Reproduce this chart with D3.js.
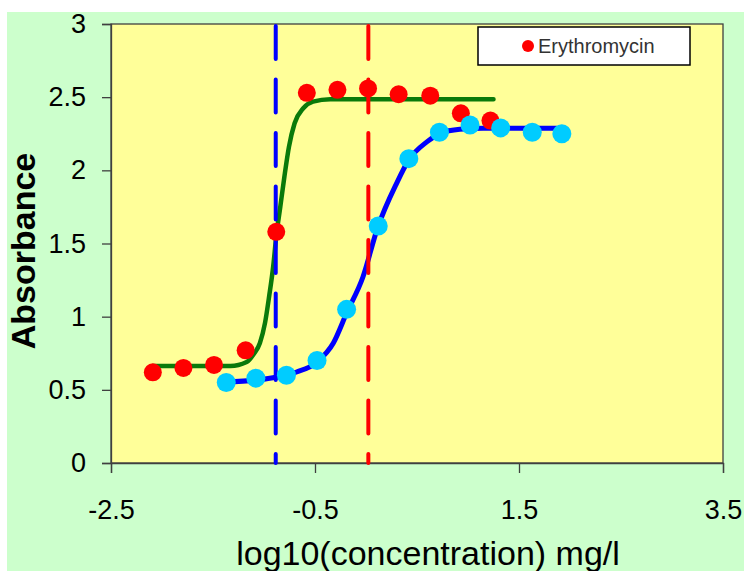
<!DOCTYPE html>
<meta charset="utf-8">
<style>
body { margin: 0; background: #fff; }
text { font-family: "Liberation Sans", Arial, sans-serif; }
</style>
<body>
<script src="https://d3js.org/d3.v7.min.js"></script>
<script>
// Erythromycin points (red) and second series (cyan)
var ertX = [-2.09, -1.79, -1.49, -1.18, -0.88, -0.58, -0.28, 0.02, 0.32, 0.63, 0.93, 1.22],
    ertY = [0.62, 0.65, 0.67, 0.77, 1.58, 2.53, 2.55, 2.56, 2.52, 2.51, 2.39, 2.34];
var cyX = [-1.37, -1.08, -0.78, -0.48, -0.19, 0.12, 0.42, 0.72, 1.02, 1.32, 1.63, 1.92],
    cyY = [0.55, 0.58, 0.60, 0.70, 1.05, 1.62, 2.08, 2.26, 2.31, 2.29, 2.26, 2.25];

// fitted curves
var greenX = [-2.09, -1.33, -1.17, -1.10, -1.04, -0.99, -0.95, -0.91, -0.88, -0.84, -0.80, -0.755, -0.70, -0.615, -0.52, -0.35, 1.25],
    greenY = [0.663, 0.663, 0.69, 0.745, 0.82, 0.957, 1.137, 1.342, 1.547, 1.752, 1.957, 2.162, 2.322, 2.424, 2.469, 2.486, 2.486];
var blueX = [-1.38, -1.07, -0.87, -0.68, -0.48, -0.32, -0.19, -0.03, 0.11, 0.30, 0.42, 0.60, 0.73, 0.92, 1.15, 1.87],
    blueY = [0.554, 0.567, 0.588, 0.622, 0.69, 0.82, 1.025, 1.271, 1.60, 1.911, 2.071, 2.196, 2.253, 2.28, 2.287, 2.287];

// vertical dashed markers
var markX = [-0.885, 0.023],
    markColor = ["#0000ff", "#ff0000"];

var xTicks = [-2.5, -0.5, 1.5, 3.5],
    yTicks = [0, 0.5, 1, 1.5, 2, 2.5, 3];

var width = 744, height = 571;

var svg = d3.select("body").append("svg")
    .attr("width", width)
    .attr("height", height);

svg.append("rect")
    .attr("x", 7).attr("y", 12)
    .attr("width", width - 7).attr("height", height - 12)
    .attr("fill", "#ccffcc");

var x = d3.scaleLinear().domain([-2.5, 3.5]).range([111, 723]),
    y = d3.scaleLinear().domain([0, 3]).range([463, 24]);

svg.append("rect")
    .attr("x", x(-2.5)).attr("y", y(3))
    .attr("width", x(3.5) - x(-2.5)).attr("height", y(0) - y(3))
    .attr("fill", "#ffff99")
    .attr("stroke", "#404040")
    .attr("stroke-width", 1.3);

// axes
var fmt = function(d) { return String(d); };
var yAxis = svg.append("g")
    .attr("transform", "translate(" + x(-2.5) + ",0)")
    .call(d3.axisLeft(y).tickValues(yTicks).tickSize(9).tickPadding(16)
      .tickFormat(fmt));
var xAxis = svg.append("g")
    .attr("transform", "translate(0," + y(0) + ")")
    .call(d3.axisBottom(x).tickValues(xTicks).tickSize(10)
      .tickFormat(fmt));

[yAxis, xAxis].forEach(function(g) {
  g.select(".domain").attr("stroke", "#404040").attr("stroke-width", 1.3);
  g.selectAll(".tick line").attr("stroke", "#404040").attr("stroke-width", 1.3);
  g.selectAll(".tick text")
    .attr("fill", "#000")
    .style("font-family", "'Liberation Sans', Arial, sans-serif")
    .style("font-size", "27px");
});
xAxis.selectAll(".tick text").attr("y", 56).attr("dy", 0);

svg.append("text")
    .attr("transform", "translate(35," + 251 + ") rotate(-90)")
    .attr("text-anchor", "middle")
    .style("font-size", "34px")
    .style("font-weight", "bold")
    .text("Absorbance");

svg.append("text")
    .attr("x", 428).attr("y", 565)
    .attr("text-anchor", "middle")
    .style("font-size", "34px")
    .text("log10(concentration) mg/l");

// curves
var line = d3.line()
    .x(function(d) { return x(d[0]); })
    .y(function(d) { return y(d[1]); })
    .curve(d3.curveMonotoneX);

svg.append("path")
    .datum(d3.zip(greenX, greenY))
    .attr("d", line)
    .attr("fill", "none")
    .attr("stroke", "#0a7a0a")
    .attr("stroke-width", 4.5)
    .attr("stroke-linecap", "round");

svg.append("path")
    .datum(d3.zip(blueX, blueY))
    .attr("d", line)
    .attr("fill", "none")
    .attr("stroke", "#0000ff")
    .attr("stroke-width", 5)
    .attr("stroke-linecap", "round");

// dashed markers
svg.selectAll(".mark")
  .data(markX)
  .enter().append("line")
    .attr("x1", function(d) { return x(d); })
    .attr("x2", function(d) { return x(d); })
    .attr("y1", y(3) + 2)
    .attr("y2", y(0))
    .attr("stroke", function(d, i) { return markColor[i]; })
    .attr("stroke-width", 4)
    .attr("stroke-linecap", "round")
    .attr("stroke-dasharray", "33,20.5");

// points
svg.selectAll(".ert")
  .data(d3.zip(ertX, ertY))
  .enter().append("circle")
    .attr("cx", function(d) { return x(d[0]); })
    .attr("cy", function(d) { return y(d[1]); })
    .attr("r", 9)
    .attr("fill", "#ff0000");

svg.selectAll(".cy")
  .data(d3.zip(cyX, cyY))
  .enter().append("circle")
    .attr("cx", function(d) { return x(d[0]); })
    .attr("cy", function(d) { return y(d[1]); })
    .attr("r", 9.5)
    .attr("fill", "#00ccff");

// legend
var lg = svg.append("g");
lg.append("rect")
    .attr("x", 478).attr("y", 27)
    .attr("width", 212).attr("height", 38)
    .attr("fill", "#fff")
    .attr("stroke", "#000")
    .attr("stroke-width", 1.5);
lg.append("circle")
    .attr("cx", 528).attr("cy", 46).attr("r", 6)
    .attr("fill", "#ff0000");
lg.append("text")
    .attr("x", 538).attr("y", 53)
    .attr("fill", "#333")
    .style("font-size", "20px")
    .text("Erythromycin");
</script>
</body>
</html>
